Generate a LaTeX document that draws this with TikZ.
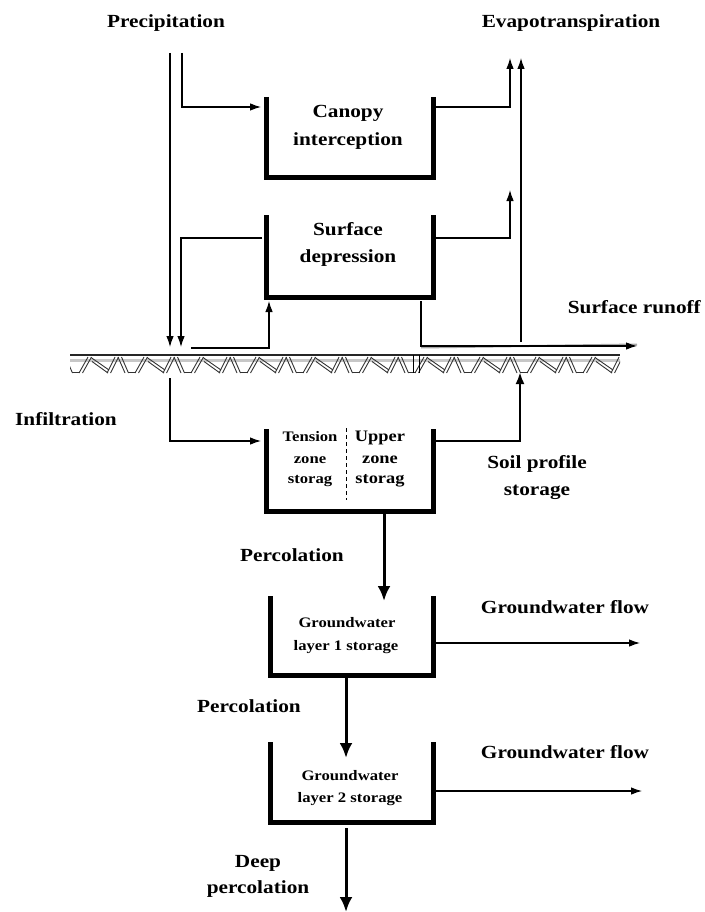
\documentclass[tikz,border=0pt]{standalone}
\usepackage{fontspec}
\setmainfont[FakeStretch=1.15]{Liberation Serif}
\usetikzlibrary{arrows.meta}
\begin{document}
\begin{tikzpicture}[x=1pt,y=-1pt,
  lbl/.style={font=\bfseries\fontsize{18.5}{20}\selectfont, anchor=base, inner sep=0pt},
  lblsm/.style={font=\bfseries\fontsize{14.5}{15}\selectfont, anchor=base, inner sep=0pt},
  lblup/.style={font=\bfseries\fontsize{16}{17}\selectfont, anchor=base, inner sep=0pt},
  lblgw/.style={font=\bfseries\fontsize{14.5}{15}\selectfont, anchor=base, inner sep=0pt},
  wall/.style={line width=5pt, line join=miter},
  flow/.style={line width=1.1pt, -{Latex[length=11pt,width=7.5pt]}},
  soilflow/.style={line width=2.4pt, -{Latex[length=12pt,width=9pt]}},
  perc/.style={line width=3pt, -{Latex[length=15pt,width=13pt]}},
  hatch/.style={line width=0.9pt, black!80},
]
\useasboundingbox (0,0) rectangle (704,912);

% ---------- tanks ----------
\coordinate (can-nw) at (266,97);  \coordinate (can-se) at (433,178);
\coordinate (sd-nw)  at (266,215); \coordinate (sd-se)  at (433,297);
\coordinate (soil-nw) at (266,429); \coordinate (soil-se) at (433,511);
\coordinate (gw1-nw) at (270,596); \coordinate (gw1-se) at (433,675);
\coordinate (gw2-nw) at (270,742); \coordinate (gw2-se) at (433,822);
\foreach \t in {can,sd,soil,gw1,gw2}
  \draw[wall] (\t-nw) |- (\t-se) -- (\t-se |- \t-nw);

% split of the soil tank
\coordinate (split-top) at (346,428);
\coordinate (split-bot) at (346,500);
\draw[line width=0.8pt, dash pattern=on 4pt off 3pt] (split-top) -- (split-bot);

% ---------- ground surface ----------
\begin{scope}
  \clip (70,352) rectangle (620,376);
  \draw[line width=3pt, black!22] (70,360.5) -- (620,360.5);
  \draw[line width=1.4pt, black!85] (70,355) -- (620,355);
  \foreach \x in {62,118,...,660} {
    % steep back-slash pair
    \draw[hatch] (\x,357) -- (\x+7,373) (\x+3.5,357) -- (\x+10.5,373);
    \draw[hatch] (\x+10,372.5) -- (\x+18,372.5);
    % slash pair
    \draw[hatch] (\x+17,373) -- (\x+26,357) (\x+20.5,373) -- (\x+29.5,357);
    % shallow back-slash pair
    \draw[hatch] (\x+29,357.5) -- (\x+47,370) (\x+30,361.5) -- (\x+46,373);
    % slash pair
    \draw[hatch] (\x+45,373) -- (\x+53,357) (\x+48.5,373) -- (\x+56.5,357);
  }
\end{scope}
\coordinate (post-top) at (413,355);
\coordinate (post-bot) at (413,373);
\draw[line width=0.9pt] (post-top) -- (post-bot) ([xshift=6pt]post-top) -- ([xshift=6pt]post-bot);

% ---------- labels ----------
\node[lbl] (precip) at (166,28) {Precipitation};
\node[lbl] (evap)   at (571,28) {Evapotranspiration};
\node[lbl] (can1) at (348,118) {Canopy};
\node[lbl] (can2) at (348,146) {interception};
\node[lbl] (sd1) at (348,235) {Surface};
\node[lbl] (sd2) at (348,262) {depression};
\node[lbl, anchor=base east] (runoff) at (701,313) {Surface runoff};
\node[lbl] (infil) at (66,425) {Infiltration};
\node[lblsm] (ten1) at (310,441) {Tension};
\node[lblsm] (ten2) at (310,463) {zone};
\node[lblsm] (ten3) at (310,483) {storag};
\node[lblup] (up1) at (380,441) {Upper};
\node[lblup] (up2) at (380,463) {zone};
\node[lblup] (up3) at (380,483) {storag};
\node[lbl] (soil1) at (537,468) {Soil profile};
\node[lbl] (soil2) at (537,495) {storage};
\node[lbl] (perc1) at (292,561) {Percolation};
\node[lblgw] (gw1a) at (347,627) {Groundwater};
\node[lblgw] (gw1b) at (346,650) {layer 1 storage};
\node[lbl] (gwf1) at (565,613) {Groundwater flow};
\node[lbl] (perc2) at (249,712) {Percolation};
\node[lblgw] (gw2a) at (350,780) {Groundwater};
\node[lblgw] (gw2b) at (350,802) {layer 2 storage};
\node[lbl] (gwf2) at (565,758) {Groundwater flow};
\node[lbl] (deep1) at (258,867) {Deep};
\node[lbl] (deep2) at (258,893) {percolation};

% ---------- connector end points ----------
\coordinate (rain-a) at (170,53);
\coordinate (rain-b) at (182,53);
\coordinate (gnd-a) at (170,347);
\coordinate (gnd-b) at (181,347);
\coordinate (can-in) at (261,107);
\coordinate (can-out) at (436,107);
\coordinate (et-a) at (510,58);
\coordinate (et-b) at (521,58);
\coordinate (gnd-et) at (521,342);
\coordinate (sd-outl) at (262,238);
\coordinate (sd-outr) at (436,238);
\coordinate (et-c) at (510,190);
\coordinate (gnd-sd) at (191,348);
\coordinate (sd-in) at (269,301);
\coordinate (sd-leak) at (421,301);
\coordinate (runoff-end) at (637,346);
\coordinate (infil-top) at (170,378);
\coordinate (soil-in) at (261,441);
\coordinate (soil-out) at (436,441);
\coordinate (soil-up) at (520,372);
\coordinate (soil-bot) at (384,514);
\coordinate (gw1-in) at (384,601);
\coordinate (gw1-out) at (436,643);
\coordinate (gw1-end) at (640,643);
\coordinate (gw1-bot) at (346,678);
\coordinate (gw2-in) at (346,758);
\coordinate (gw2-out) at (436,791);
\coordinate (gw2-end) at (642,791);
\coordinate (gw2-bot) at (346,828);
\coordinate (deep-end) at (346,912);

% ---------- connectors ----------
\draw[flow] (rain-a) -- (gnd-a);
\draw[flow] (rain-b) |- (can-in);
\draw[flow] (sd-outl) -| (gnd-b);
\draw[flow] (can-out) -| (et-a);
\draw[flow] (gnd-et) -- (et-b);
\draw[flow] (sd-outr) -| (et-c);
\draw[flow] (gnd-sd) -| (sd-in);
\draw[line width=2pt, black!35] (sd-leak |- runoff-end) ++(0,1.5) -- ([yshift=1.5pt]runoff-end);
\draw[flow] (sd-leak) |- (runoff-end);
\draw[flow] (infil-top) |- (soil-in);
\draw[soilflow] (soil-out) -| (soil-up);
\draw[perc] (soil-bot) -- (gw1-in);
\draw[flow] (gw1-out) -- (gw1-end);
\draw[perc] (gw1-bot) -- (gw2-in);
\draw[flow] (gw2-out) -- (gw2-end);
\draw[perc] (gw2-bot) -- (deep-end);
\end{tikzpicture}
\end{document}
